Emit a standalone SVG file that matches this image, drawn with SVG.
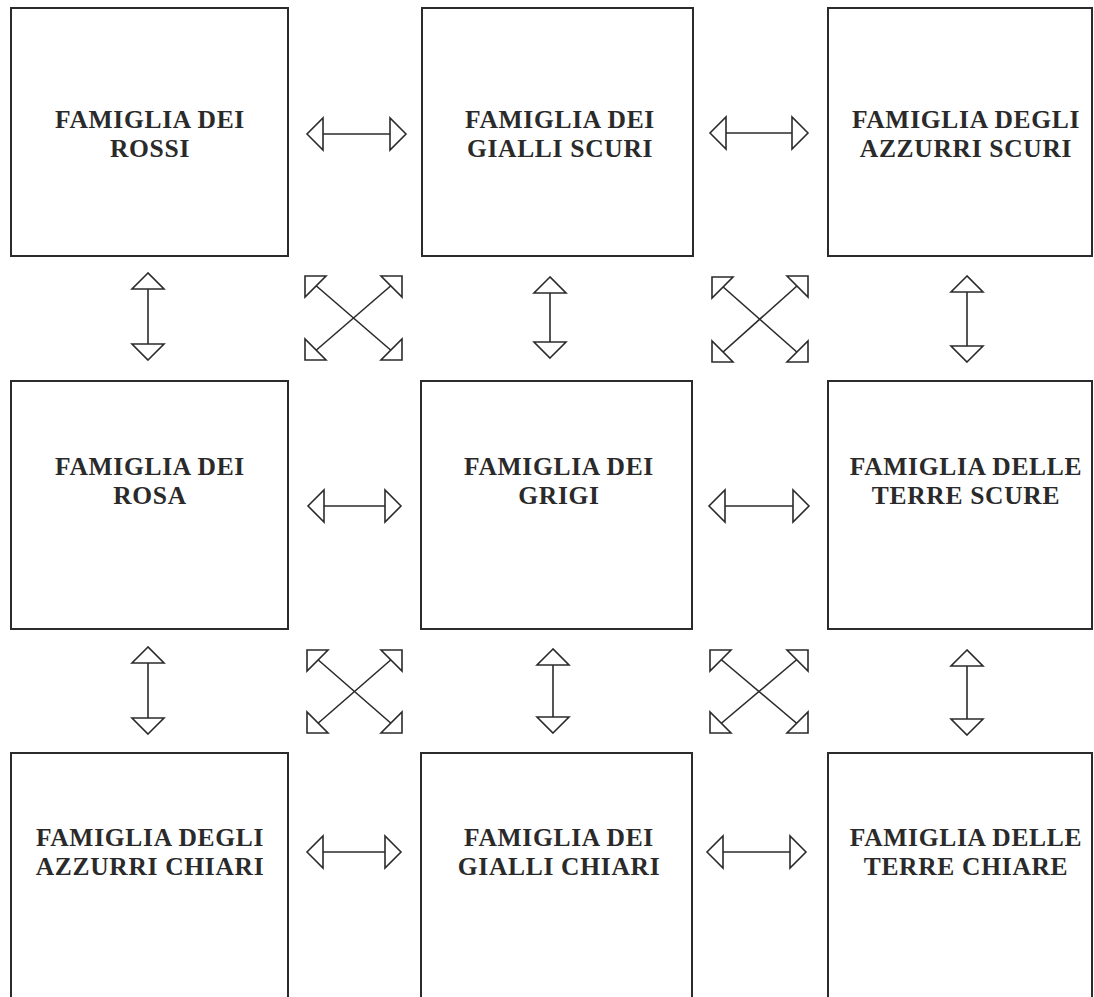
<svg xmlns="http://www.w3.org/2000/svg" xmlns:xlink="http://www.w3.org/1999/xlink" width="1094" height="997" viewBox="0 0 1094 997">
<style>
.box{fill:none;stroke:#2b2b2b;stroke-width:2}
.lbl{font-family:"Liberation Serif","Times New Roman",serif;font-weight:bold;font-size:25.5px;fill:#2a2a2a;text-anchor:middle;letter-spacing:0.7px}
.arr{stroke:#2b2b2b;stroke-width:1.6;fill:none;marker-start:url(#head);marker-end:url(#head)}
.dl{stroke:#2b2b2b;stroke-width:1.6;fill:none}
.dh{fill:#fff;stroke:#2b2b2b;stroke-width:1.6}
</style>
<defs>
<marker id="head" markerUnits="userSpaceOnUse" viewBox="-18 -18 20 36" markerWidth="20" markerHeight="36" refX="0" refY="0" orient="auto-start-reverse">
<path d="M0,0 L-16,-16 L-16,16 Z" fill="#fff" stroke="#2b2b2b" stroke-width="1.6"/>
</marker>
<path id="dhd" class="dh" d="M0,0 H21 L0,21 Z"/>
</defs>
<rect width="1094" height="997" fill="#fff"/>
<g id="rossi"><rect class="box" x="11" y="8" width="277" height="248"/><text class="lbl" x="150" y="128">FAMIGLIA DEI</text><text class="lbl" x="150" y="157">ROSSI</text></g>
<g id="gialli-scuri"><rect class="box" x="422" y="8" width="271" height="248"/><text class="lbl" x="560" y="128">FAMIGLIA DEI</text><text class="lbl" x="560" y="157">GIALLI SCURI</text></g>
<g id="azzurri-scuri"><rect class="box" x="828" y="8" width="264" height="248"/><text class="lbl" x="966" y="128">FAMIGLIA DEGLI</text><text class="lbl" x="966" y="157">AZZURRI SCURI</text></g>
<g id="rosa"><rect class="box" x="11" y="381" width="277" height="248"/><text class="lbl" x="150" y="475">FAMIGLIA DEI</text><text class="lbl" x="150" y="504">ROSA</text></g>
<g id="grigi"><rect class="box" x="421" y="381" width="271" height="248"/><text class="lbl" x="559" y="475">FAMIGLIA DEI</text><text class="lbl" x="559" y="504">GRIGI</text></g>
<g id="terre-scure"><rect class="box" x="828" y="381" width="264" height="248"/><text class="lbl" x="966" y="475">FAMIGLIA DELLE</text><text class="lbl" x="966" y="504">TERRE SCURE</text></g>
<g id="azzurri-chiari"><path class="box" d="M11,1000 V753 H288 V1000"/><text class="lbl" x="150" y="846">FAMIGLIA DEGLI</text><text class="lbl" x="150" y="875">AZZURRI CHIARI</text></g>
<g id="gialli-chiari"><path class="box" d="M421,1000 V753 H692 V1000"/><text class="lbl" x="559" y="846">FAMIGLIA DEI</text><text class="lbl" x="559" y="875">GIALLI CHIARI</text></g>
<g id="terre-chiare"><path class="box" d="M828,1000 V753 H1092 V1000"/><text class="lbl" x="966" y="846">FAMIGLIA DELLE</text><text class="lbl" x="966" y="875">TERRE CHIARE</text></g>
<g id="connectors">
<line class="arr" x1="307" y1="134" x2="406" y2="134"/>
<line class="arr" x1="710" y1="133" x2="808" y2="133"/>
<line class="arr" x1="308" y1="506" x2="401" y2="506"/>
<line class="arr" x1="709" y1="506" x2="809" y2="506"/>
<line class="arr" x1="307" y1="852" x2="401" y2="852"/>
<line class="arr" x1="707" y1="852" x2="806" y2="852"/>
<line class="arr" x1="148" y1="273" x2="148" y2="360"/>
<line class="arr" x1="550" y1="277" x2="550" y2="358"/>
<line class="arr" x1="967" y1="276" x2="967" y2="362"/>
<line class="arr" x1="148" y1="647" x2="148" y2="734"/>
<line class="arr" x1="553" y1="649" x2="553" y2="733"/>
<line class="arr" x1="967" y1="650" x2="967" y2="735"/>
<g id="x1">
<line class="dl" x1="306" y1="277" x2="401" y2="359"/>
<line class="dl" x1="401" y1="277" x2="306" y2="359"/>
<use xlink:href="#dhd" transform="translate(305,276)"/>
<use xlink:href="#dhd" transform="translate(402,276) scale(-1,1)"/>
<use xlink:href="#dhd" transform="translate(305,360) scale(1,-1)"/>
<use xlink:href="#dhd" transform="translate(402,360) scale(-1,-1)"/>
</g>
<g id="x2">
<line class="dl" x1="713" y1="278" x2="807" y2="361"/>
<line class="dl" x1="807" y1="277" x2="713" y2="361"/>
<use xlink:href="#dhd" transform="translate(712,277)"/>
<use xlink:href="#dhd" transform="translate(808,276) scale(-1,1)"/>
<use xlink:href="#dhd" transform="translate(712,362) scale(1,-1)"/>
<use xlink:href="#dhd" transform="translate(808,362) scale(-1,-1)"/>
</g>
<g id="x3">
<line class="dl" x1="308" y1="651" x2="401" y2="732"/>
<line class="dl" x1="401" y1="651" x2="308" y2="732"/>
<use xlink:href="#dhd" transform="translate(307,650)"/>
<use xlink:href="#dhd" transform="translate(402,650) scale(-1,1)"/>
<use xlink:href="#dhd" transform="translate(307,733) scale(1,-1)"/>
<use xlink:href="#dhd" transform="translate(402,733) scale(-1,-1)"/>
</g>
<g id="x4">
<line class="dl" x1="711" y1="651" x2="807" y2="732"/>
<line class="dl" x1="807" y1="651" x2="711" y2="732"/>
<use xlink:href="#dhd" transform="translate(710,650)"/>
<use xlink:href="#dhd" transform="translate(808,650) scale(-1,1)"/>
<use xlink:href="#dhd" transform="translate(710,733) scale(1,-1)"/>
<use xlink:href="#dhd" transform="translate(808,733) scale(-1,-1)"/>
</g>
</g>
</svg>
